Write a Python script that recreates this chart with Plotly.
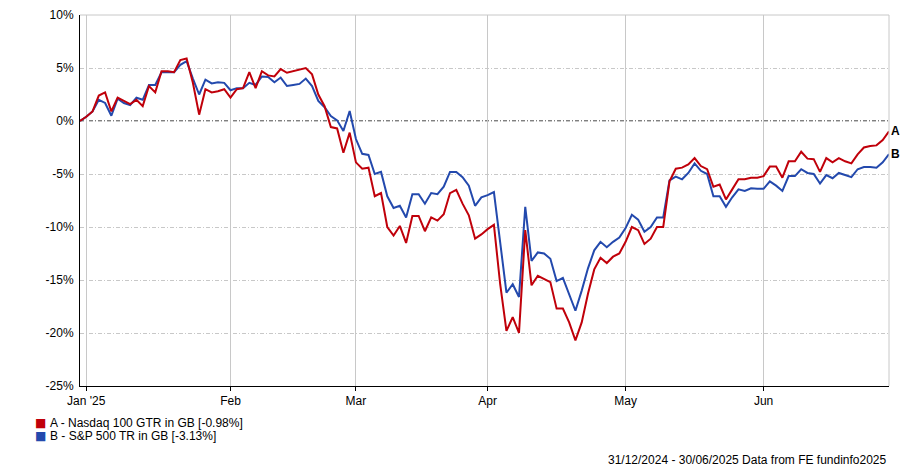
import pandas as pd
import plotly.graph_objects as go

# Business days from 31/12/2024 to 30/06/2025
dates = pd.bdate_range("2024-12-31", "2025-06-30").strftime("%Y-%m-%d").tolist()

nasdaq_100 = [
    0.0, 0.4, 0.9, 2.4, 2.7, 0.9, 2.2, 1.9, 1.6, 2.0,
    1.4, 3.3, 2.7, 4.7, 4.7, 4.6, 5.75, 5.9, 3.6, 0.6,
    3.0, 2.7, 2.8, 3.0, 2.2, 3.0, 3.1, 4.6, 3.1, 4.7,
    4.3, 4.2, 4.9, 4.55, 4.7, 4.8, 5.0, 4.4, 2.5, 1.4,
    -0.57, -0.7, -3.0, -1.1, -3.9, -4.5, -4.4, -7.1, -6.8, -10.0,
    -10.8, -9.9, -11.5, -8.96, -8.96, -10.4, -9.1, -9.4, -8.8, -6.8,
    -6.5, -7.8, -8.9, -11.1, -10.7, -10.2, -9.8, -15.4, -19.8, -18.5,
    -20.0, -10.3, -15.5, -14.6, -14.9, -15.2, -17.7, -17.7, -19.0, -20.7,
    -19.0, -16.3, -14.0, -12.9, -13.4, -12.8, -12.5, -11.4, -10.0, -10.3,
    -11.6, -11.1, -10.0, -10.0, -5.7, -4.5, -4.4, -4.1, -3.5, -4.25,
    -4.55, -6.2, -6.0, -7.4, -6.45, -5.5, -5.5, -5.35, -5.35, -5.2,
    -4.3, -4.3, -5.35, -3.8, -3.8, -2.9, -3.55, -3.6, -4.8, -3.5,
    -3.9, -3.5, -3.8, -4.0, -3.15, -2.5, -2.35, -2.3, -1.8, -0.98,
]

sp_500 = [
    0.0, 0.4, 0.9, 2.0, 1.7, 0.5, 2.1, 1.7, 1.5, 2.2,
    2.0, 3.4, 3.4, 4.6, 4.6, 4.6, 5.3, 5.65, 4.0, 2.5,
    3.9, 3.55, 3.65, 3.6, 2.9, 3.1, 3.1, 3.6, 3.4, 4.2,
    4.15, 3.65, 4.1, 3.3, 3.4, 3.5, 4.0, 3.3, 1.9, 1.3,
    0.47, 0.06, -0.94, 0.94, -1.7, -3.1, -3.2, -5.0, -4.8, -7.1,
    -8.2, -8.0, -9.1, -6.9, -6.9, -7.8, -6.8, -6.9, -6.2, -4.8,
    -4.8, -5.3, -6.1, -8.0, -7.2, -7.0, -6.7, -11.3, -16.2, -15.4,
    -16.6, -8.1, -13.2, -12.4, -12.5, -13.0, -15.1, -14.8, -16.3, -17.9,
    -16.0, -13.9, -12.2, -11.4, -11.9, -11.4, -11.0, -10.1, -8.85, -9.3,
    -10.45, -10.0, -9.1, -9.1, -5.6, -5.25, -5.5, -4.9, -4.0, -4.7,
    -5.0, -7.1, -7.1, -8.1, -7.2, -6.45, -6.6, -6.35, -6.4, -6.4,
    -5.7, -6.1, -6.6, -5.2, -5.2, -4.55, -4.9, -5.0, -5.9, -5.1,
    -5.4, -4.9, -5.1, -5.3, -4.55, -4.35, -4.35, -4.4, -3.9, -3.13,
]

series_names = ["A - Nasdaq 100 GTR in GB [-0.98%]", "B - S&P 500 TR in GB [-3.13%]"]
series_labels = ["A", "B"]
series_colors = ["#C0000A", "#2349AD"]

tick_dates = ["2025-01-01", "2025-02-03", "2025-03-03", "2025-04-01", "2025-05-01", "2025-06-02"]
tick_text = ["Jan '25", "Feb", "Mar", "Apr", "May", "Jun"]
y_ticks = [-25, -20, -15, -10, -5, 0, 5, 10]
y_text = [f"{v}%" for v in y_ticks]

source_text = "31/12/2024 - 30/06/2025 Data from FE fundinfo2025"

FONT = "Liberation Sans, Arial, sans-serif"
FS = 12
W, H = 900, 467
ML, MR, MT, MB = 80, 11, 15, 81
PW, PH = W - ML - MR, H - MT - MB


def px_x(px):
    return (px - ML) / PW


def px_y(py):
    return (H - MB - py) / PH


fig = go.Figure()

# Draw B first so A is on top
for vals, color in [(sp_500, series_colors[1]), (nasdaq_100, series_colors[0])]:
    fig.add_trace(go.Scatter(x=dates, y=vals, mode="lines",
                             line=dict(color=color, width=2),
                             showlegend=False, hoverinfo="skip"))

# End labels
for vals, lab in [(nasdaq_100, series_labels[0]), (sp_500, series_labels[1])]:
    fig.add_annotation(x=dates[-1], y=vals[-1], text=f"<b>{lab}</b>", showarrow=False,
                       xanchor="left", yanchor="middle", xshift=0,
                       font=dict(family=FONT, size=12, color="black"))

# Legend (below the plot, left)
for k, (name, color) in enumerate(zip(series_names, series_colors)):
    row_y = px_y(423 + 13 * k)
    fig.add_annotation(xref="paper", yref="paper", x=px_x(33), y=row_y, text="■",
                       showarrow=False, xanchor="left", yanchor="middle",
                       font=dict(family="DejaVu Sans", size=12, color=color))
    fig.add_annotation(xref="paper", yref="paper", x=px_x(48), y=row_y, text=name,
                       showarrow=False, xanchor="left", yanchor="middle",
                       font=dict(family=FONT, size=FS, color="black"))

# Zero line (dash-dot black)
fig.add_shape(type="line", xref="paper", x0=0, x1=1, yref="y", y0=0, y1=0,
              line=dict(color="black", width=1, dash="4px,2px,1px,2px"), layer="between")
# Top and right border
fig.add_shape(type="line", xref="paper", yref="paper", x0=0, x1=1, y0=1, y1=1,
              line=dict(color="#C8C8C8", width=1))
fig.add_shape(type="line", xref="paper", yref="paper", x0=1, x1=1, y0=0, y1=1,
              line=dict(color="#C8C8C8", width=1))

fig.add_annotation(xref="paper", yref="paper", x=1, y=px_y(460), text=source_text,
                   showarrow=False, xanchor="right", yanchor="middle",
                   font=dict(family=FONT, size=FS, color="black"))

fig.update_layout(
    width=W, height=H,
    margin=dict(l=ML, r=MR, t=MT, b=MB, autoexpand=False),
    paper_bgcolor="white", plot_bgcolor="white",
    font=dict(family=FONT, size=FS, color="black"),
    showlegend=False,
    xaxis=dict(range=[dates[0], dates[-1]],
               rangebreaks=[dict(bounds=["sat", "mon"])],
               tickmode="array", tickvals=tick_dates, ticktext=tick_text,
               showgrid=True, gridcolor="#C8C8C8", gridwidth=1,
               showline=True, linecolor="black", linewidth=1,
               ticks="outside", ticklen=4, tickcolor="black",
               tickfont=dict(family=FONT, size=FS, color="black"),
               zeroline=False, automargin=False),
    yaxis=dict(range=[-25, 10], tickmode="array", tickvals=y_ticks, ticktext=y_text,
               showgrid=True, gridcolor="#C8C8C8", gridwidth=1, griddash="4px,2px,1px,2px",
               showline=True, linecolor="black", linewidth=1,
               ticks="outside", ticklen=3, tickcolor="rgba(0,0,0,0)",
               tickfont=dict(family=FONT, size=FS, color="black"),
               zeroline=False, automargin=False),
)

fig.write_html("out.html", config={"displayModeBar": False},
               post_script="document.body.style.margin='0';document.body.style.overflow='hidden';")
